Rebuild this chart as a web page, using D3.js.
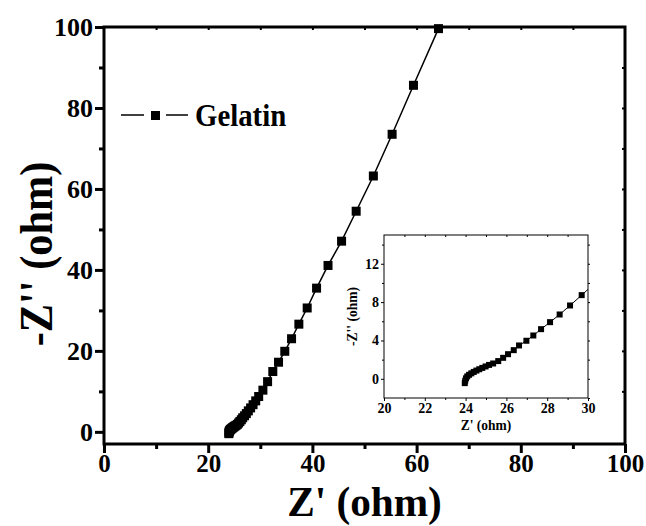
<!DOCTYPE html>
<html lang="en">
<head>
<meta charset="utf-8">
<title>Gelatin impedance</title>
<script src="https://cdn.jsdelivr.net/npm/d3@7"></script>
<style>
  body { margin: 0; background: #fff; }
  text { font-family: "Liberation Serif", "Times New Roman", serif; font-weight: bold; fill: #000; }
</style>
</head>
<body>
<script>
// Nyquist data: Z' (ohm) and -Z'' (ohm)
var zReal = [23.96, 23.98, 24.02, 24.08, 24.17, 24.28, 24.40, 24.53, 24.67, 24.82,
             24.98, 25.15, 25.35, 25.60, 25.84, 26.08, 26.36, 26.62, 26.98, 27.32,
             27.70, 28.14, 28.61, 29.12, 29.69, 30.5, 31.4, 32.4, 33.5, 34.7,
             36.0, 37.4, 39.0, 40.8, 43.0, 45.6, 48.4, 51.7, 55.3, 59.4, 64.2];
var zImag = [-0.45, -0.2, 0.05, 0.25, 0.42, 0.57, 0.72, 0.86, 1.00, 1.14,
             1.29, 1.45, 1.60, 1.85, 2.19, 2.57, 2.99, 3.48, 3.97, 4.52,
             5.18, 5.91, 6.71, 7.65, 8.73, 10.3, 12.4, 14.9, 17.2, 19.9,
             23.0, 26.6, 30.6, 35.5, 41.1, 47.1, 54.5, 63.2, 73.5, 85.6, 99.6];
var seriesName = "Gelatin";
var mainTicks = [0, 20, 40, 60, 80, 100];
var insetXTicks = [20, 22, 24, 26, 28, 30];
var insetYTicks = [0, 4, 8, 12];

var data = zReal.map(function(d, i) { return {x: d, y: zImag[i]}; });

var w = 646, h = 526;
var svg = d3.select("body").append("svg").attr("width", w).attr("height", h);

// ---------- main plot ----------
var L = 104, R = 625, T = 27, B = 444;
var x = d3.scaleLinear().domain([0, 100]).range([L, R]);
var y = d3.scaleLinear().domain([-3, 100]).range([B, T]);

function frame(g, l, r, t, b, sw) {
  g.append("rect").attr("x", l).attr("y", t).attr("width", r - l).attr("height", b - t)
    .attr("fill", "none").attr("stroke", "#000").attr("stroke-width", sw);
}

var gMain = svg.append("g");
frame(gMain, L, R, T, B, 3);

// bottom axis
gMain.append("g").attr("transform", "translate(0," + B + ")")
  .call(d3.axisBottom(x).tickValues(mainTicks).tickSize(9).tickPadding(1))
  .call(function(g) {
    g.select(".domain").remove();
    g.selectAll("line").attr("stroke-width", 3);
    g.selectAll("text").style("font-size", "25px");
  });
gMain.append("g").attr("transform", "translate(0," + B + ")")
  .call(d3.axisBottom(x).tickValues(d3.range(10, 100, 20)).tickSize(5).tickFormat(""))
  .call(function(g) { g.select(".domain").remove(); g.selectAll("line").attr("stroke-width", 3); });
// left axis
gMain.append("g").attr("transform", "translate(" + L + ",0)")
  .call(d3.axisLeft(y).tickValues(mainTicks).tickSize(9).tickPadding(2))
  .call(function(g) {
    g.select(".domain").remove();
    g.selectAll("line").attr("stroke-width", 3);
    g.selectAll("text").style("font-size", "26px");
  });
gMain.append("g").attr("transform", "translate(" + L + ",0)")
  .call(d3.axisLeft(y).tickValues(d3.range(10, 100, 20)).tickSize(5).tickFormat(""))
  .call(function(g) { g.select(".domain").remove(); g.selectAll("line").attr("stroke-width", 3); });
// top and right small inward ticks
gMain.append("g").attr("transform", "translate(0," + T + ")")
  .call(d3.axisBottom(x).tickValues(d3.range(10, 100, 10)).tickSize(3).tickFormat(""))
  .call(function(g) { g.select(".domain").remove(); g.selectAll("line").attr("stroke-width", 2); });
gMain.append("g").attr("transform", "translate(" + R + ",0)")
  .call(d3.axisLeft(y).tickValues(d3.range(10, 100, 10)).tickSize(3).tickFormat(""))
  .call(function(g) { g.select(".domain").remove(); g.selectAll("line").attr("stroke-width", 2); });

// axis titles (slightly condensed, like the original bold Times)
svg.append("text").attr("transform", "translate(" + ((L + R) / 2) + ",516) scale(0.96,1)")
  .attr("text-anchor", "middle").style("font-size", "43px").text("Z' (ohm)");
svg.append("text").attr("transform", "translate(52,254) rotate(-90) scale(0.9,1)")
  .attr("text-anchor", "middle").style("font-size", "47px").text("-Z'' (ohm)");

// series
var line = d3.line().x(function(d) { return x(d.x); }).y(function(d) { return y(d.y); });
gMain.append("path").datum(data).attr("d", line)
  .attr("fill", "none").attr("stroke", "#000").attr("stroke-width", 1.5);
gMain.selectAll("rect.pt").data(data).enter().append("rect").attr("class", "pt")
  .attr("x", function(d) { return x(d.x) - 4.5; })
  .attr("y", function(d) { return y(d.y) - 4.5; })
  .attr("width", 9).attr("height", 9).attr("fill", "#000");

// legend
var lg = svg.append("g");
lg.append("line").attr("x1", 121).attr("x2", 144).attr("y1", 115).attr("y2", 115)
  .attr("stroke", "#000").attr("stroke-width", 1.5);
lg.append("line").attr("x1", 166).attr("x2", 188).attr("y1", 115).attr("y2", 115)
  .attr("stroke", "#000").attr("stroke-width", 1.5);
lg.append("rect").attr("x", 151).attr("y", 111).attr("width", 9).attr("height", 9).attr("fill", "#000");
lg.append("text").attr("transform", "translate(195,126) scale(0.9,1)")
  .style("font-size", "32px").text(seriesName);

// ---------- inset ----------
var iL = 384, iR = 588, iT = 235, iB = 398;
var ix = d3.scaleLinear().domain([20, 30]).range([iL, iR]);
var iy = d3.scaleLinear().domain([-2, 15]).range([iB, iT]);
var gIn = svg.append("g");
gIn.append("rect").attr("x", iL).attr("y", iT).attr("width", iR - iL).attr("height", iB - iT)
  .attr("fill", "#fff");

gIn.append("g").attr("transform", "translate(0," + iB + ")")
  .call(d3.axisBottom(ix).tickValues(insetXTicks).tickSize(3).tickPadding(2))
  .call(function(g) { g.select(".domain").remove(); g.selectAll("text").style("font-size", "14px"); });
gIn.append("g").attr("transform", "translate(0," + iB + ")")
  .call(d3.axisBottom(ix).tickValues(d3.range(21, 30, 2)).tickSize(2).tickFormat(""))
  .call(function(g) { g.select(".domain").remove(); });
gIn.append("g").attr("transform", "translate(" + iL + ",0)")
  .call(d3.axisLeft(iy).tickValues(insetYTicks).tickSize(3).tickPadding(2))
  .call(function(g) { g.select(".domain").remove(); g.selectAll("text").style("font-size", "14px"); });
gIn.append("g").attr("transform", "translate(" + iL + ",0)")
  .call(d3.axisLeft(iy).tickValues([2, 6, 10, 14]).tickSize(2).tickFormat(""))
  .call(function(g) { g.select(".domain").remove(); });
gIn.append("g").attr("transform", "translate(0," + iT + ")")
  .call(d3.axisBottom(ix).tickValues(d3.range(21, 30, 1)).tickSize(2).tickFormat(""))
  .call(function(g) { g.select(".domain").remove(); });
gIn.append("g").attr("transform", "translate(" + iR + ",0)")
  .call(d3.axisRight(iy).tickValues(d3.range(-2, 15, 2)).tickSize(2).tickFormat(""))
  .call(function(g) { g.select(".domain").remove(); });

svg.append("text").attr("transform", "translate(" + ((iL + iR) / 2) + ",430) scale(0.9,1)")
  .attr("text-anchor", "middle").style("font-size", "15px").text("Z' (ohm)");
svg.append("text").attr("transform", "translate(357," + ((iT + iB) / 2) + ") rotate(-90) scale(0.9,1)")
  .attr("text-anchor", "middle").style("font-size", "15px").text("-Z'' (ohm)");

svg.append("clipPath").attr("id", "iclip").append("rect")
  .attr("x", iL).attr("y", iT).attr("width", iR - iL).attr("height", iB - iT);
var iline = d3.line().x(function(d) { return ix(d.x); }).y(function(d) { return iy(d.y); });
var gData = gIn.append("g").attr("clip-path", "url(#iclip)");
gData.append("path").datum(data).attr("d", iline)
  .attr("fill", "none").attr("stroke", "#000").attr("stroke-width", 1);
gData.selectAll("rect.ipt").data(data.filter(function(d) { return d.x <= 30; }))
  .enter().append("rect").attr("class", "ipt")
  .attr("x", function(d) { return ix(d.x) - 3; })
  .attr("y", function(d) { return iy(d.y) - 3; })
  .attr("width", 6).attr("height", 6).attr("fill", "#000");
frame(gIn, iL, iR, iT, iB, 1);
</script>
</body>
</html>
